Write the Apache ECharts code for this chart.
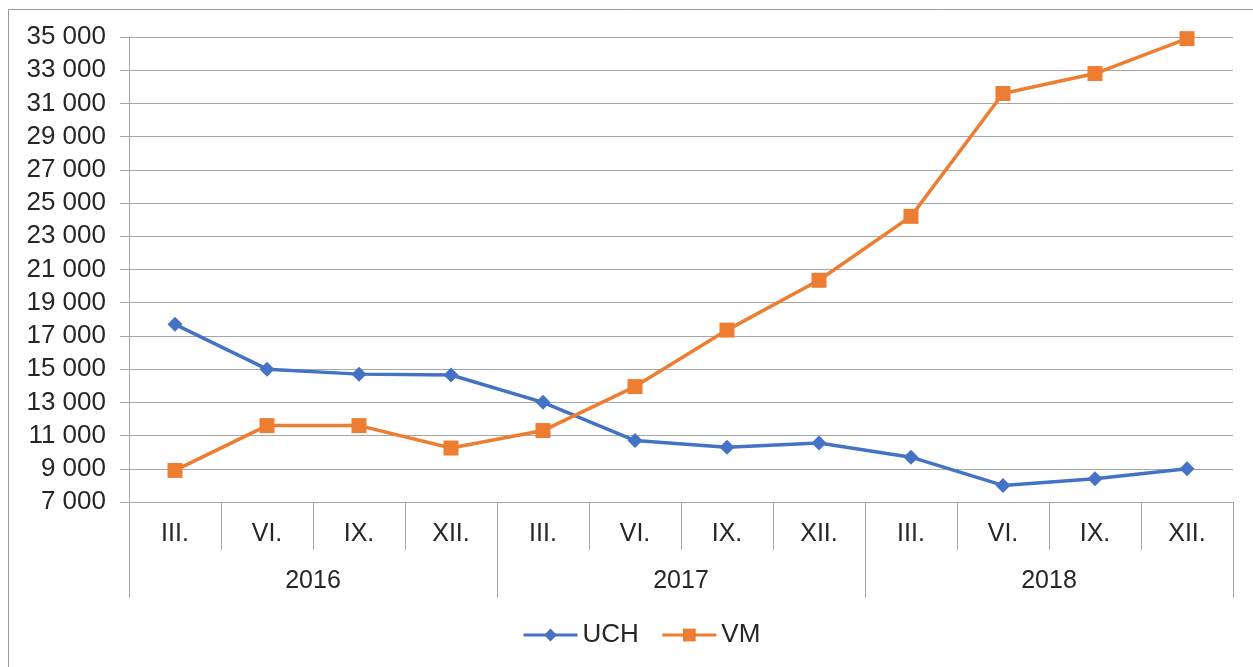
<!DOCTYPE html>
<html lang="en">

<head>
    <meta charset="UTF-8">
    <title>UCH / VM</title>
    <script src="https://cdn.jsdelivr.net/npm/echarts@6/dist/echarts.min.js"></script>
    <style>
        html, body { margin: 0; padding: 0; background: #fff; }
        #main { width: 1253px; height: 667px; }
    </style>
</head>

<body>
    <div id="main"></div>
    <script>
        // data
        var months = ['III.', 'VI.', 'IX.', 'XII.', 'III.', 'VI.', 'IX.', 'XII.', 'III.', 'VI.', 'IX.', 'XII.'];
        var years = ['2016', '2017', '2018'];
        var uch = [17700, 15000, 14700, 14650, 13000, 10700, 10300, 10550, 9700, 8000, 8400, 9000];
        var vm = [8900, 11600, 11600, 10250, 11300, 13950, 17350, 20350, 24200, 31600, 32800, 34900];

        var font = 'Liberation Sans, Arial, sans-serif';
        var txt = '#262626';
        var gridColor = '#a6a6a6';

        var myChart = echarts.init(document.getElementById('main'));
        var option = {
            animation: false,
            textStyle: { fontFamily: font },
            graphic: [{
                // outer frame of the chart area
                type: 'rect',
                shape: { x: 8.5, y: 9.5, width: 1300, height: 700 },
                style: { fill: 'none', stroke: '#9a9a9a', lineWidth: 1 },
                silent: true
            }],
            grid: { left: 129, right: 20, top: 37, bottom: 165 },
            legend: {
                bottom: 14,
                left: 517,
                itemWidth: 54,
                itemHeight: 16,
                itemGap: 22,
                lineStyle: { width: 3 },
                textStyle: { color: txt, fontSize: 26, fontFamily: font },
                data: ['UCH', 'VM']
            },
            xAxis: [{
                type: 'category',
                data: months,
                boundaryGap: true,
                axisLine: { lineStyle: { color: gridColor } },
                axisTick: { show: true, interval: 0, length: 48, lineStyle: { color: gridColor } },
                axisLabel: { interval: 0, margin: 20, color: txt, fontSize: 25, fontFamily: font }
            }, {
                type: 'category',
                data: years,
                position: 'bottom',
                offset: 48,
                boundaryGap: true,
                axisLine: { show: false },
                axisTick: { show: true, interval: 0, length: 48, lineStyle: { color: gridColor } },
                axisLabel: { interval: 0, margin: 19, color: txt, fontSize: 25, fontFamily: font }
            }],
            yAxis: {
                type: 'value',
                min: 7000,
                max: 35000,
                interval: 2000,
                axisLine: { show: true, lineStyle: { color: gridColor } },
                axisTick: { show: true, length: 9, lineStyle: { color: gridColor } },
                axisLabel: {
                    margin: 23,
                    color: txt,
                    fontSize: 26,
                    fontFamily: font,
                    formatter: function (v) {
                        return String(v).replace(/\B(?=(\d{3})+(?!\d))/g, ' ');
                    }
                },
                splitLine: { lineStyle: { color: gridColor, width: 1 } }
            },
            series: [{
                name: 'UCH',
                type: 'line',
                data: uch,
                symbol: 'diamond',
                symbolSize: 15,
                itemStyle: { color: '#4472C4' },
                lineStyle: { color: '#4472C4', width: 3.5 }
            }, {
                name: 'VM',
                type: 'line',
                data: vm,
                symbol: 'rect',
                symbolSize: 15,
                itemStyle: { color: '#ED7D31' },
                lineStyle: { color: '#ED7D31', width: 3.5 }
            }]
        };
        myChart.setOption(option);
    </script>
</body>

</html>
